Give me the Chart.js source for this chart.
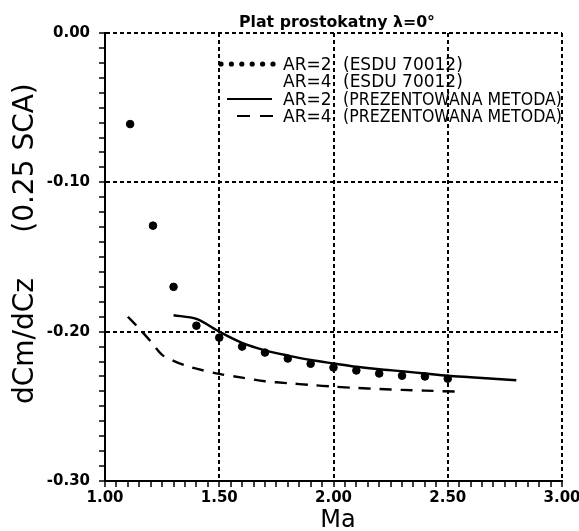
<!DOCTYPE html>
<html lang="pl">
<head>
<meta charset="utf-8">
<title>Plat prostokatny</title>
<script src="https://cdn.jsdelivr.net/npm/chart.js@4.4.1/dist/chart.umd.min.js"></script>
<style>
  html, body { margin: 0; padding: 0; background: #fff; }
  #chart { display: block; }
</style>
</head>
<body>
<canvas id="chart" width="579" height="531"></canvas>
<script>
// ESDU 70012, AR=2 (punkty)
const esduMa = [1.11, 1.21, 1.30, 1.40, 1.50, 1.60, 1.70, 1.80, 1.90, 2.00, 2.10, 2.20, 2.30, 2.40, 2.50];
const esduAr2 = [-0.061, -0.129, -0.170, -0.196, -0.204, -0.210, -0.214, -0.218, -0.2215, -0.224, -0.226, -0.228, -0.2295, -0.230, -0.2315];

// prezentowana metoda, AR=2 (linia ciagla)
const metodaMa2 = [1.30, 1.40, 1.50, 1.60, 1.70, 1.80, 1.90, 2.00, 2.10, 2.20, 2.30, 2.40, 2.50, 2.60, 2.70, 2.80];
const metodaAr2 = [-0.189, -0.1915, -0.200, -0.2075, -0.2125, -0.216, -0.219, -0.2213, -0.2235, -0.2252, -0.2265, -0.228, -0.2295, -0.2305, -0.2315, -0.2325];

// prezentowana metoda, AR=4 (linia przerywana)
const metodaMa4 = [1.10, 1.15, 1.20, 1.25, 1.30, 1.35, 1.40, 1.50, 1.60, 1.70, 1.80, 1.90, 2.00, 2.10, 2.20, 2.30, 2.40, 2.55];
const metodaAr4 = [-0.190, -0.198, -0.2065, -0.2155, -0.2195, -0.2225, -0.2248, -0.2283, -0.2308, -0.2332, -0.2345, -0.2357, -0.2368, -0.2377, -0.2384, -0.2390, -0.2395, -0.2402];

// napisy
const titleText = 'Plat prostokatny λ=0°';
const xTitle = 'Ma';
const yTitleA = 'dCm/dCz';
const yTitleB = '(0.25 SCA)';
const legendAR = ['AR=2', 'AR=4', 'AR=2', 'AR=4'];
const legendSrc = ['(ESDU 70012)', '(ESDU 70012)', '(PREZENTOWANA METODA)', '(PREZENTOWANA METODA)'];

const FONT = '"DejaVu Sans", sans-serif';

function toPoints(xs, ys) {
  return xs.map((x, i) => ({ x: x, y: ys[i] }));
}

// glowne podzialki: co 0.5 na osi Ma, co 0.1 na osi dCm/dCz
const isMajorX = (v) => Math.round(v * 100) % 50 === 0;
const isMajorY = (v) => Math.round(Math.abs(v) * 100) % 10 === 0;

const textPlugin = {
  id: 'plotTexts',
  afterDraw(chart) {
    const ctx = chart.ctx;
    ctx.save();
    ctx.fillStyle = '#000';
    ctx.strokeStyle = '#000';

    // tytul
    ctx.font = 'bold 16px ' + FONT;
    ctx.textAlign = 'center';
    ctx.textBaseline = 'alphabetic';
    ctx.fillText(titleText, 337, 27, 196);

    // os X
    ctx.font = '24px ' + FONT;
    ctx.fillText(xTitle, 338, 527);

    // os Y (obrocona)
    ctx.save();
    ctx.translate(33, 0);
    ctx.rotate(-Math.PI / 2);
    ctx.font = '28px ' + FONT;
    ctx.fillText(yTitleB, -158, 0);
    ctx.fillText(yTitleA, -341, 0);
    ctx.restore();

    // legenda
    const rows = [64, 81, 99, 116];
    ctx.font = '17px ' + FONT;
    ctx.textAlign = 'left';
    for (let i = 0; i < rows.length; i++) {
      ctx.fillText(legendAR[i], 283, rows[i] + 6);
      ctx.fillText(legendSrc[i], 343, rows[i] + 6, 219);
    }
    // symbole legendy
    for (let i = 0; i < 6; i++) {
      ctx.beginPath();
      ctx.arc(221 + i * 10.4, rows[0], 2.6, 0, Math.PI * 2);
      ctx.fill();
    }
    ctx.lineWidth = 2;
    ctx.beginPath();
    ctx.moveTo(227, rows[2]);
    ctx.lineTo(272, rows[2]);
    ctx.stroke();
    ctx.setLineDash([13, 10]);
    ctx.beginPath();
    ctx.moveTo(237, rows[3]);
    ctx.lineTo(274, rows[3]);
    ctx.stroke();
    ctx.restore();
  }
};

new Chart(document.getElementById('chart'), {
  type: 'scatter',
  data: {
    datasets: [
      {
        label: 'AR=2 (ESDU 70012)',
        data: toPoints(esduMa, esduAr2),
        backgroundColor: '#000',
        borderColor: '#000',
        pointRadius: 3.8,
        showLine: false,
      },
      {
        label: 'AR=2 (PREZENTOWANA METODA)',
        data: toPoints(metodaMa2, metodaAr2),
        borderColor: '#000',
        borderWidth: 2.4,
        pointRadius: 0,
        showLine: true,
        tension: 0.3,
      },
      {
        label: 'AR=4 (PREZENTOWANA METODA)',
        data: toPoints(metodaMa4, metodaAr4),
        borderColor: '#000',
        borderWidth: 2.4,
        borderDash: [12, 9],
        pointRadius: 0,
        showLine: true,
        tension: 0.3,
      },
    ],
  },
  options: {
    responsive: false,
    animation: false,
    layout: {
      padding: { top: 33, right: 17, bottom: 0, left: 0 }
    },
    scales: {
      x: {
        type: 'linear',
        min: 1,
        max: 3,
        afterFit: (s) => { s.height = 50; s.paddingLeft = 0; s.paddingRight = 0; },
        ticks: {
          stepSize: 0.05,
          maxTicksLimit: 1000,
          autoSkip: false,
          maxRotation: 0,
          padding: 2,
          color: '#000',
          font: { family: FONT, size: 15, weight: 'bold' },
          callback: (v) => isMajorX(v) ? v.toFixed(2) : '',
        },
        grid: {
          color: (c) => (c.tick && isMajorX(c.tick.value) && c.tick.value > 1.01) ? '#000' : 'rgba(0,0,0,0)',
          lineWidth: 2,
          tickColor: '#000',
          tickWidth: 1.5,
          tickLength: 6,
          tickBorderDash: [],
        },
        border: { color: '#000', width: 2, dash: [4, 3] },
      },
      y: {
        min: -0.3,
        max: 0,
        afterFit: (s) => { s.width = 105; s.paddingTop = 0; s.paddingBottom = 0; },
        ticks: {
          stepSize: 0.01,
          maxTicksLimit: 1000,
          autoSkip: false,
          padding: 9,
          color: '#000',
          font: { family: FONT, size: 15, weight: 'bold' },
          callback: (v) => isMajorY(v) ? v.toFixed(2) : '',
        },
        grid: {
          color: (c) => (c.tick && isMajorY(c.tick.value) && c.tick.value > -0.295) ? '#000' : 'rgba(0,0,0,0)',
          lineWidth: 2,
          tickColor: '#000',
          tickWidth: 1.5,
          tickLength: 6,
          tickBorderDash: [],
        },
        border: { color: '#000', width: 2, dash: [4, 3] },
      },
    },
    plugins: {
      legend: { display: false },
      tooltip: { enabled: false },
    }
  },
  plugins: [textPlugin]
});
</script>
</body>
</html>
